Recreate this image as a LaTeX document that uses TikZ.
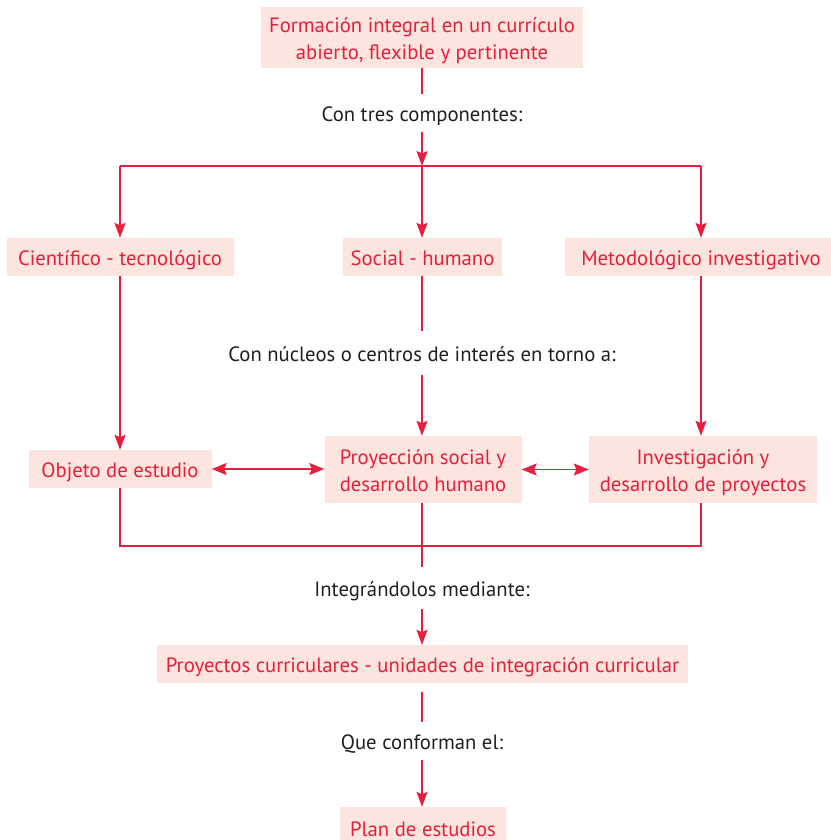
\documentclass[tikz,border=0pt]{standalone}
\usepackage{fontspec}
\setmainfont{PT Sans}
\usetikzlibrary{arrows.meta}
\definecolor{cred}{RGB}{232,30,60}
\definecolor{cfill}{RGB}{252,229,222}
\definecolor{ctext}{RGB}{35,31,32}
\begin{document}
\begin{tikzpicture}[x=1pt,y=-1pt,
 box/.style={fill=cfill, text=cred, inner sep=0pt, align=center, font=\fontsize{20.7}{27}\selectfont, text height=19.5pt, text depth=2pt},
 box2/.style={box, text height=46.5pt},
 lab/.style={text=ctext, inner sep=0pt, font=\fontsize{20.7}{27}\selectfont, text height=19.5pt, text depth=2pt},
 conn/.style={draw=cred, line width=1.5pt},
 arr/.style={conn, -{Stealth[length=15pt,width=11pt,inset=2.5pt]}},
 darr/.style={conn, {Stealth[length=15pt,width=12pt,inset=2.5pt]}-{Stealth[length=15pt,width=12pt,inset=2.5pt]}}
]
\useasboundingbox (0,0) rectangle (830,840);
\node[box2, minimum width=322pt, minimum height=61pt] (top) at (422,37.5) {Formación integral en un currículo\\abierto, flexible y pertinente};
\node[lab, minimum height=38pt] (t1) at (422,113) {Con tres componentes:};
\coordinate (j) at (422,166);
\coordinate (jl) at (120,166);
\coordinate (jr) at (701,166);
\node[box, minimum width=227pt, minimum height=38pt] (cie) at (120,257) {Científico - tecnológico};
\node[box, minimum width=159pt, minimum height=38pt] (soc) at (422.5,257) {Social - humano};
\node[box, minimum width=272pt, minimum height=38pt] (met) at (701,257) {Metodológico investigativo};
\node[lab, minimum height=44pt] (t2) at (422,353) {Con núcleos o centros de interés en torno a:};
\node[box, minimum width=183pt, minimum height=38pt] (obj) at (120,469) {Objeto de estudio};
\node[box2, minimum width=197pt, minimum height=67pt] (pro) at (423,469.5) {Proyección social y\\desarrollo humano};
\node[box2, minimum width=228pt, minimum height=67pt] (inv) at (703,469.5) {Investigación y\\desarrollo de proyectos};
\coordinate (m) at (422,546);
\node[lab, minimum height=42pt] (t3) at (422,588) {Integrándolos mediante:};
\node[box, minimum width=531pt, minimum height=38pt] (pc) at (422.5,664) {Proyectos curriculares - unidades de integración curricular};
\node[lab, minimum height=38pt] (t4) at (422,741) {Que conforman el:};
\node[box, minimum width=166pt, minimum height=41pt] (plan) at (423,827.5) {Plan de estudios};
% connectors
\draw[conn] (top.south) -- (t1.north);
\draw[arr] (t1.south) -- (j);
\draw[conn] (jl) -- (jr);
\draw[arr] (jl) -- (cie.north);
\draw[arr] (j) -- (j |- soc.north);
\draw[arr] (jr) -- (met.north);
\draw[conn] (soc.south -| t2.north) -- (t2.north);
\draw[arr] (t2.south) -- (t2.south |- pro.north);
\draw[arr] (cie.south) -- (obj.north);
\draw[arr] (met.south) -- (met.south |- inv.north);
\draw[darr] (obj.east) -- (obj.east -| pro.west);
\draw[darr] (pro.east) -- (pro.east -| inv.west);
\draw[conn] (obj.south) |- (m) -| (met.south |- inv.south);
\draw[conn] (m |- pro.south) -- (t3.north);
\draw[arr] (t3.south) -- (t3.south |- pc.north);
\draw[conn, shorten <=9pt] (pc.south -| t4.north) -- (t4.north);
\draw[arr] (t4.south) -- (t4.south |- plan.north);
\end{tikzpicture}
\end{document}
